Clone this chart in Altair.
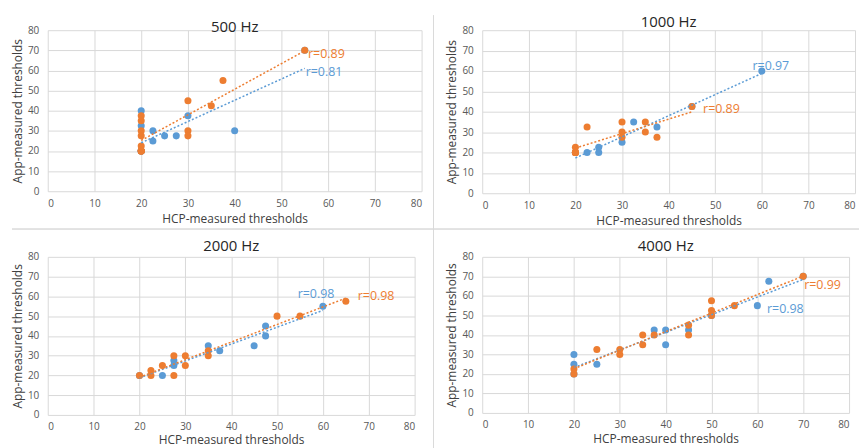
import altair as alt
import pandas as pd

FONT = "Open Sans"
BLUE = "#5B9BD5"
ORANGE = "#ED7D31"
SEP = "#DADADA"

# ---- data ----
titles = ["500 Hz", "1000 Hz", "2000 Hz", "4000 Hz"]

hcp_500_blue = [20, 20, 20, 20, 20, 20, 22.5, 22.5, 25, 27.5, 30, 40, 55]
app_500_blue = [40, 32.5, 20, 20, 20, 20, 30, 25, 27.5, 27.5, 37.5, 30, 70]
hcp_500_orange = [20, 20, 20, 20, 20, 20, 20, 20, 20, 30, 30, 30, 35, 37.5, 55]
app_500_orange = [20, 20, 20, 20, 22.5, 27.5, 30, 35, 37.5, 45, 30, 27.5, 42.5, 55, 70]

hcp_1000_blue = [20, 22.5, 25, 25, 30, 32.5, 37.5, 45, 60]
app_1000_blue = [20, 20, 20, 22.5, 25, 35, 32.5, 42.5, 60]
hcp_1000_orange = [20, 20, 20, 20, 20, 22.5, 30, 30, 30, 35, 35, 37.5, 45]
app_1000_orange = [20, 20, 20, 20, 22.5, 32.5, 35, 30, 27.5, 35, 30, 27.5, 42.5]

hcp_2000_blue = [20, 25, 27.5, 27.5, 35, 37.5, 45, 47.5, 47.5, 60]
app_2000_blue = [20, 20, 25, 27.5, 35, 32.5, 35, 45, 40, 55]
hcp_2000_orange = [20, 22.5, 22.5, 25, 27.5, 27.5, 30, 30, 35, 35, 50, 55, 65]
app_2000_orange = [20, 22.5, 20, 25, 30, 20, 30, 25, 32.5, 30, 50, 50, 57.5]

hcp_4000_blue = [20, 20, 20, 25, 37.5, 40, 40, 45, 50, 60, 62.5, 70]
app_4000_blue = [30, 25, 20, 25, 42.5, 42.5, 35, 42.5, 50, 55, 67.5, 70]
hcp_4000_orange = [20, 20, 25, 30, 30, 35, 35, 37.5, 45, 45, 50, 50, 50, 55, 70]
app_4000_orange = [20, 22.5, 32.5, 32.5, 30, 40, 35, 40, 45, 40, 57.5, 52.5, 50, 55, 70]

# r labels: text and anchor (x, y) in data units, [blue, orange]
r_text = [["r=0.81", "r=0.89"], ["r=0.97", "r=0.89"], ["r=0.98", "r=0.98"], ["r=0.98", "r=0.99"]]
r_x = [[55.2, 55.7], [58.0, 47.4], [54.5, 67.6], [62.1, 70.2]]
r_y = [[59.0, 68.0], [62.5, 41.5], [61.4, 60.4], [53.1, 65.7]]

axis_ticks = [0, 10, 20, 30, 40, 50, 60, 70, 80]

panels_data = [
    (hcp_500_blue, app_500_blue, hcp_500_orange, app_500_orange),
    (hcp_1000_blue, app_1000_blue, hcp_1000_orange, app_1000_orange),
    (hcp_2000_blue, app_2000_blue, hcp_2000_orange, app_2000_orange),
    (hcp_4000_blue, app_4000_blue, hcp_4000_orange, app_4000_orange),
]

# per-panel plot sizes (layout only)
widths = [376, 375, 369, 369]
heights = [162, 164, 159, 157]
title_offsets = [-20, -5, -2, -2]
xtitle_pad = [5, 5, 3, 4]


def panel(i):
    bx, by, ox, oy = panels_data[i]
    df = pd.DataFrame({
        "x": bx + ox,
        "y": by + oy,
        "s": ["A"] * len(bx) + ["B"] * len(ox),
    })
    lab = pd.DataFrame({"x": r_x[i], "y": r_y[i], "t": r_text[i], "s": ["A", "B"]})
    color = alt.Color("s:N", scale=alt.Scale(domain=["A", "B"], range=[BLUE, ORANGE]), legend=None)
    xenc = alt.X("x:Q", scale=alt.Scale(domain=[0, 80], nice=False),
                 axis=alt.Axis(values=axis_ticks, title="HCP-measured thresholds",
                               labelPadding=7, titlePadding=xtitle_pad[i], labelOverlap=False))
    yenc = alt.Y("y:Q", scale=alt.Scale(domain=[0, 80], nice=False),
                 axis=alt.Axis(values=axis_ticks, title="App-measured thresholds",
                               labelPadding=9, titlePadding=3, labelOverlap=False))
    base = alt.Chart(df)
    pts = base.mark_circle(size=50, opacity=1).encode(x=xenc, y=yenc, color=color)
    lines = base.transform_regression("x", "y", groupby=["s"]).mark_line(
        strokeDash=[2, 2], strokeWidth=1.5
    ).encode(x=xenc, y=yenc, color=color)
    txt = alt.Chart(lab).mark_text(align="left", baseline="middle", fontSize=12.5, font=FONT).encode(
        x=xenc, y=yenc, text="t:N", color=color
    )
    layers = [pts, lines, txt]
    if i == 0:
        # light frame lines separating the four chart boxes
        vsep = alt.Chart(lab).mark_rule(color=SEP, strokeWidth=1).encode(
            x=alt.value(388), y=alt.value(-15), y2=alt.value(425))
        hsep = alt.Chart(lab).mark_rule(color=SEP, strokeWidth=1).encode(
            x=alt.value(-36), x2=alt.value(816), y=alt.value(200))
        layers = [vsep, hsep] + layers
    return alt.layer(*layers).properties(
        width=widths[i], height=heights[i],
        title=alt.TitleParams(titles[i], fontSize=15, font=FONT, fontWeight="normal",
                              color="#262626", offset=title_offsets[i], frame="group"),
    )


chart = alt.concat(
    panel(0), panel(1), panel(2), panel(3),
    columns=2, spacing={"row": 64, "column": 61}, bounds="flush",
).properties(padding={"left": 3, "top": 5, "right": 0, "bottom": 0}).configure_axis(
    labelFont=FONT, titleFont=FONT, labelFontSize=10, titleFontSize=12,
    labelColor="#595959", titleColor="#404040", titleFontWeight="normal",
    gridColor="#D9D9D9", gridWidth=1, domain=False, ticks=False,
).configure_view(stroke=None)

chart.save("out.html", embed_options={"renderer": "svg", "actions": False})
